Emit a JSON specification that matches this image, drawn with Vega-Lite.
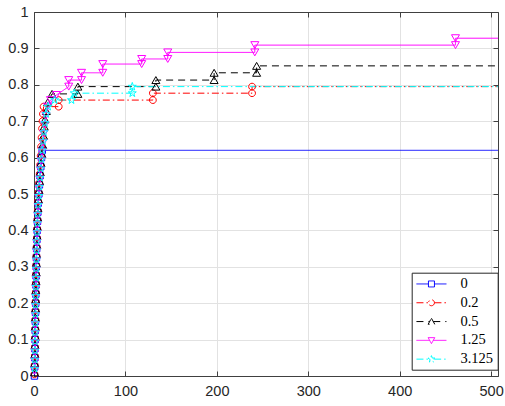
{
  "$schema": "https://vega.github.io/schema/vega-lite/v6.json",
  "width": 464,
  "height": 364,
  "autosize": {"type": "none"},
  "padding": {"left": 34, "top": 12, "right": 7, "bottom": 30},
  "background": "white",
  "config": {"view": {"stroke": null}},
  "data": {"values": [
    {"s":"0","x":0.5,"y":0},{"s":"0","x":0.7,"y":0.025},{"s":"0","x":0.9,"y":0.05},{"s":"0","x":1.0,"y":0.075},{"s":"0","x":1.2,"y":0.1},{"s":"0","x":1.35,"y":0.125},{"s":"0","x":1.5,"y":0.15},{"s":"0","x":1.65,"y":0.175},{"s":"0","x":1.8,"y":0.2},{"s":"0","x":1.95,"y":0.225},{"s":"0","x":2.1,"y":0.25},{"s":"0","x":2.3,"y":0.275},{"s":"0","x":2.5,"y":0.3},{"s":"0","x":2.7,"y":0.325},{"s":"0","x":2.9,"y":0.35},{"s":"0","x":3.2,"y":0.375},{"s":"0","x":3.5,"y":0.4},{"s":"0","x":3.8,"y":0.425},{"s":"0","x":4.2,"y":0.45},{"s":"0","x":4.7,"y":0.475},{"s":"0","x":5.3,"y":0.5},{"s":"0","x":5.9,"y":0.525},{"s":"0","x":6.6,"y":0.55},{"s":"0","x":7.4,"y":0.575},{"s":"0","x":8.2,"y":0.6},{"s":"0","x":9.0,"y":0.62},{"s":"0","x":520,"y":0.62},

    {"s":"0.2","x":0.5,"y":0.005},{"s":"0.2","x":0.7,"y":0.03},{"s":"0.2","x":0.9,"y":0.055},{"s":"0.2","x":1.0,"y":0.08},{"s":"0.2","x":1.2,"y":0.105},{"s":"0.2","x":1.35,"y":0.13},{"s":"0.2","x":1.5,"y":0.155},{"s":"0.2","x":1.65,"y":0.18},{"s":"0.2","x":1.8,"y":0.205},{"s":"0.2","x":1.95,"y":0.23},{"s":"0.2","x":2.1,"y":0.255},{"s":"0.2","x":2.3,"y":0.28},{"s":"0.2","x":2.5,"y":0.305},{"s":"0.2","x":2.7,"y":0.33},{"s":"0.2","x":2.9,"y":0.355},{"s":"0.2","x":3.2,"y":0.38},{"s":"0.2","x":3.5,"y":0.405},{"s":"0.2","x":3.8,"y":0.43},{"s":"0.2","x":4.2,"y":0.455},{"s":"0.2","x":4.6,"y":0.48},{"s":"0.2","x":5.1,"y":0.505},{"s":"0.2","x":5.6,"y":0.53},{"s":"0.2","x":6.2,"y":0.555},{"s":"0.2","x":6.8,"y":0.58},{"s":"0.2","x":7.3,"y":0.605},{"s":"0.2","x":7.8,"y":0.63},{"s":"0.2","x":8.3,"y":0.655},{"s":"0.2","x":8.8,"y":0.68},{"s":"0.2","x":9.3,"y":0.7},{"s":"0.2","x":9.8,"y":0.72},{"s":"0.2","x":10.5,"y":0.74},{"s":"0.2","x":27,"y":0.74},{"s":"0.2","x":27,"y":0.758},{"s":"0.2","x":130,"y":0.758},{"s":"0.2","x":130,"y":0.777},{"s":"0.2","x":238.5,"y":0.777},{"s":"0.2","x":238.5,"y":0.795},{"s":"0.2","x":520,"y":0.795},

    {"s":"0.5","x":0.6,"y":0.01},{"s":"0.5","x":0.8,"y":0.035},{"s":"0.5","x":0.95,"y":0.06},{"s":"0.5","x":1.1,"y":0.085},{"s":"0.5","x":1.25,"y":0.11},{"s":"0.5","x":1.4,"y":0.135},{"s":"0.5","x":1.55,"y":0.16},{"s":"0.5","x":1.7,"y":0.185},{"s":"0.5","x":1.85,"y":0.21},{"s":"0.5","x":2.0,"y":0.235},{"s":"0.5","x":2.2,"y":0.26},{"s":"0.5","x":2.4,"y":0.285},{"s":"0.5","x":2.6,"y":0.31},{"s":"0.5","x":2.8,"y":0.335},{"s":"0.5","x":3.0,"y":0.36},{"s":"0.5","x":3.3,"y":0.385},{"s":"0.5","x":3.6,"y":0.41},{"s":"0.5","x":4.0,"y":0.435},{"s":"0.5","x":4.4,"y":0.46},{"s":"0.5","x":4.9,"y":0.485},{"s":"0.5","x":5.5,"y":0.51},{"s":"0.5","x":6.2,"y":0.535},{"s":"0.5","x":6.9,"y":0.56},{"s":"0.5","x":7.7,"y":0.585},{"s":"0.5","x":8.6,"y":0.61},{"s":"0.5","x":9.5,"y":0.635},{"s":"0.5","x":10.4,"y":0.66},{"s":"0.5","x":11.2,"y":0.685},{"s":"0.5","x":12.0,"y":0.705},{"s":"0.5","x":13.5,"y":0.728},{"s":"0.5","x":15.0,"y":0.752},{"s":"0.5","x":19.7,"y":0.775},{"s":"0.5","x":48,"y":0.775},{"s":"0.5","x":48,"y":0.795},{"s":"0.5","x":133.3,"y":0.795},{"s":"0.5","x":133.3,"y":0.813},{"s":"0.5","x":197,"y":0.813},{"s":"0.5","x":197,"y":0.833},{"s":"0.5","x":243.5,"y":0.833},{"s":"0.5","x":243.5,"y":0.852},{"s":"0.5","x":520,"y":0.852},

    {"s":"1.25","x":0.5,"y":0.015},{"s":"1.25","x":0.7,"y":0.04},{"s":"1.25","x":0.9,"y":0.065},{"s":"1.25","x":1.05,"y":0.09},{"s":"1.25","x":1.25,"y":0.115},{"s":"1.25","x":1.4,"y":0.14},{"s":"1.25","x":1.55,"y":0.165},{"s":"1.25","x":1.7,"y":0.19},{"s":"1.25","x":1.85,"y":0.215},{"s":"1.25","x":2.0,"y":0.24},{"s":"1.25","x":2.2,"y":0.265},{"s":"1.25","x":2.4,"y":0.29},{"s":"1.25","x":2.6,"y":0.315},{"s":"1.25","x":2.8,"y":0.34},{"s":"1.25","x":3.1,"y":0.365},{"s":"1.25","x":3.4,"y":0.39},{"s":"1.25","x":3.7,"y":0.415},{"s":"1.25","x":4.0,"y":0.44},{"s":"1.25","x":4.5,"y":0.465},{"s":"1.25","x":5.0,"y":0.49},{"s":"1.25","x":5.6,"y":0.515},{"s":"1.25","x":6.3,"y":0.54},{"s":"1.25","x":7.0,"y":0.565},{"s":"1.25","x":7.9,"y":0.59},{"s":"1.25","x":8.8,"y":0.615},{"s":"1.25","x":9.7,"y":0.64},{"s":"1.25","x":10.6,"y":0.665},{"s":"1.25","x":11.7,"y":0.69},{"s":"1.25","x":13.0,"y":0.715},{"s":"1.25","x":14.8,"y":0.74},{"s":"1.25","x":18,"y":0.758},{"s":"1.25","x":24.5,"y":0.772},{"s":"1.25","x":38,"y":0.795},{"s":"1.25","x":38,"y":0.813},{"s":"1.25","x":52,"y":0.813},{"s":"1.25","x":52,"y":0.833},{"s":"1.25","x":75.2,"y":0.833},{"s":"1.25","x":75.2,"y":0.857},{"s":"1.25","x":117.8,"y":0.857},{"s":"1.25","x":117.8,"y":0.871},{"s":"1.25","x":146.3,"y":0.871},{"s":"1.25","x":146.3,"y":0.889},{"s":"1.25","x":241.5,"y":0.889},{"s":"1.25","x":241.5,"y":0.909},{"s":"1.25","x":461,"y":0.909},{"s":"1.25","x":461,"y":0.928},{"s":"1.25","x":520,"y":0.928},

    {"s":"3.125","x":0.6,"y":0.02},{"s":"3.125","x":0.8,"y":0.045},{"s":"3.125","x":0.95,"y":0.07},{"s":"3.125","x":1.1,"y":0.095},{"s":"3.125","x":1.3,"y":0.12},{"s":"3.125","x":1.45,"y":0.145},{"s":"3.125","x":1.6,"y":0.17},{"s":"3.125","x":1.75,"y":0.195},{"s":"3.125","x":1.9,"y":0.22},{"s":"3.125","x":2.05,"y":0.245},{"s":"3.125","x":2.25,"y":0.27},{"s":"3.125","x":2.45,"y":0.295},{"s":"3.125","x":2.65,"y":0.32},{"s":"3.125","x":2.85,"y":0.345},{"s":"3.125","x":3.1,"y":0.37},{"s":"3.125","x":3.4,"y":0.395},{"s":"3.125","x":3.7,"y":0.42},{"s":"3.125","x":4.1,"y":0.445},{"s":"3.125","x":4.6,"y":0.47},{"s":"3.125","x":5.2,"y":0.495},{"s":"3.125","x":5.8,"y":0.52},{"s":"3.125","x":6.5,"y":0.545},{"s":"3.125","x":7.3,"y":0.57},{"s":"3.125","x":8.1,"y":0.595},{"s":"3.125","x":9.0,"y":0.62},{"s":"3.125","x":9.9,"y":0.645},{"s":"3.125","x":10.9,"y":0.67},{"s":"3.125","x":12.0,"y":0.695},{"s":"3.125","x":13.3,"y":0.72},{"s":"3.125","x":15.5,"y":0.74},{"s":"3.125","x":22.6,"y":0.758},{"s":"3.125","x":41,"y":0.758},{"s":"3.125","x":44,"y":0.777},{"s":"3.125","x":107.5,"y":0.777},{"s":"3.125","x":107.5,"y":0.795},{"s":"3.125","x":520,"y":0.795}
  ]},
  "layer": [
    {
      "mark": {"type": "line", "strokeWidth": 1, "clip": true},
      "encoding": {
        "x": {"field": "x", "type": "quantitative",
              "scale": {"domain": [0, 507.5], "nice": false, "zero": false},
              "axis": {"orient": "bottom", "values": [0,100,200,300,400,500], "title": null, "grid": true, "gridColor": "#e2e2e2", "gridWidth": 1,
                       "tickSize": -5, "tickColor": "#404040", "domainColor": "#404040", "domainWidth": 1,
                       "labelFont": "Liberation Sans", "labelFontSize": 14.5, "labelColor": "#262626", "labelPadding": 13, "labelFlush": false, "labelOverlap": false}},
        "y": {"field": "y", "type": "quantitative",
              "scale": {"domain": [0, 1], "nice": false},
              "axis": {"orient": "left", "values": [0,0.1,0.2,0.3,0.4,0.5,0.6,0.7,0.8,0.9,1], "format": "~g", "title": null, "grid": true, "gridColor": "#e2e2e2", "gridWidth": 1,
                       "tickSize": -5, "tickColor": "#404040", "domainColor": "#404040", "domainWidth": 1,
                       "labelFont": "Liberation Sans", "labelFontSize": 14.5, "labelColor": "#262626", "labelPadding": 11, "labelFlush": false, "labelOverlap": false}},
        "color": {"field": "s", "type": "nominal",
                  "scale": {"domain": ["0","0.2","0.5","1.25","3.125"], "range": ["#0000ff","#ff0000","#000000","#ff00ff","#00ffff"]},
                  "legend": null},
        "strokeDash": {"field": "s", "type": "nominal",
                       "scale": {"domain": ["0","0.2","0.5","1.25","3.125"], "range": [[1,0],[7,3,1.5,3],[7,5],[1,0],[7,3,1.5,3]]},
                       "legend": null},
        "order": {"value": null}
      }
    },
    {
      "transform": [{"filter": "datum.x <= 507.5"}],
      "mark": {"type": "point", "filled": false, "strokeWidth": 1, "size": 64, "opacity": 1},
      "encoding": {
        "x": {"field": "x", "type": "quantitative", "scale": {"domain": [0, 507.5], "nice": false, "zero": false}, "axis": null},
        "y": {"field": "y", "type": "quantitative", "scale": {"domain": [0, 1], "nice": false}, "axis": null},
        "color": {"field": "s", "type": "nominal",
                  "scale": {"domain": ["0","0.2","0.5","1.25","3.125"], "range": ["#0000ff","#ff0000","#000000","#ff00ff","#00ffff"]},
                  "legend": null},
        "shape": {"field": "s", "type": "nominal",
                  "scale": {"domain": ["0","0.2","0.5","1.25","3.125"], "range": ["M-0.8,-0.8L0.8,-0.8L0.8,0.8L-0.8,0.8Z","M0.85,0A0.85,0.85,0,1,1,-0.85,0A0.85,0.85,0,1,1,0.85,0Z","triangle-up","triangle-down","M0,-1.05L0.24,-0.33L1.0,-0.33L0.39,0.12L0.62,0.85L0,0.4L-0.62,0.85L-0.39,0.12L-1.0,-0.33L-0.24,-0.33Z"]},
                  "legend": null}
      }
    },
    {
      "transform": [{"filter": "datum.x < -1000"}],
      "mark": {"type": "point", "filled": false, "strokeWidth": 1, "size": 36, "opacity": 1},
      "encoding": {
        "x": {"field": "x", "type": "quantitative", "scale": {"domain": [0, 507.5], "nice": false, "zero": false},
              "axis": {"orient": "top", "values": [0,100,200,300,400,500], "title": null, "labels": false, "grid": false,
                       "tickSize": -5, "tickColor": "#404040", "domainColor": "#404040", "domainWidth": 1}},
        "y": {"field": "y", "type": "quantitative", "scale": {"domain": [0, 1], "nice": false},
              "axis": {"orient": "right", "values": [0,0.1,0.2,0.3,0.4,0.5,0.6,0.7,0.8,0.9,1], "title": null, "labels": false, "grid": false,
                       "tickSize": -5, "tickColor": "#404040", "domainColor": "#404040", "domainWidth": 1}},
        "color": {"field": "s", "type": "nominal",
                  "scale": {"domain": ["0","0.2","0.5","1.25","3.125"], "range": ["#0000ff","#ff0000","#000000","#ff00ff","#00ffff"]},
                  "legend": {"title": null, "orient": "none", "legendX": 377.7, "legendY": 260.7, "padding": 4,
                             "strokeColor": "#262626", "fillColor": "white",
                             "labelFont": "Liberation Serif", "labelFontSize": 14.5, "labelColor": "black",
                             "labelExpr": "datum.label + '   '",
                             "symbolOffset": 8.5, "labelOffset": 21.7, "rowPadding": 3.8, "symbolSize": 36, "symbolStrokeWidth": 1, "symbolOpacity": 1}},
        "shape": {"field": "s", "type": "nominal",
                  "scale": {"domain": ["0","0.2","0.5","1.25","3.125"], "range": [
                    "M-5,0L-1,0M1,0L5,0M-1,-1L1,-1L1,1L-1,1Z",
                    "M-5,0L-1,0M1,0L5,0M1,0A1,1,0,1,1,-1,0A1,1,0,1,1,1,0Z",
                    "M-5,0L-0.6,0M0.6,0L5,0M0,-1.1L1.1,0.9L-1.1,0.9Z",
                    "M-5,0L-0.6,0M0.6,0L5,0M-1.1,-0.9L1.1,-0.9L0,1.1Z",
                    "M-5,0L-0.9,0M0.9,0L5,0M0,-1.2L0.27,-0.37L1.14,-0.37L0.44,0.14L0.71,0.97L0,0.46L-0.71,0.97L-0.44,0.14L-1.14,-0.37L-0.27,-0.37Z"]},
                  "legend": {"title": null, "orient": "none", "legendX": 377.7, "legendY": 260.7, "padding": 4,
                             "strokeColor": "#262626", "fillColor": "white",
                             "labelFont": "Liberation Serif", "labelFontSize": 14.5, "labelColor": "black",
                             "labelExpr": "datum.label + '   '",
                             "symbolOffset": 8.5, "labelOffset": 21.7, "rowPadding": 3.8, "symbolSize": 36, "symbolStrokeWidth": 1, "symbolOpacity": 1}},
        "strokeDash": {"field": "s", "type": "nominal",
                       "scale": {"domain": ["0","0.2","0.5","1.25","3.125"], "range": [[1,0],[7,3,1.5,3],[7,5],[1,0],[7,3,1.5,3]]},
                       "legend": {"title": null, "orient": "none", "legendX": 377.7, "legendY": 260.7, "padding": 4,
                             "strokeColor": "#262626", "fillColor": "white",
                             "labelFont": "Liberation Serif", "labelFontSize": 14.5, "labelColor": "black",
                             "labelExpr": "datum.label + '   '",
                             "symbolOffset": 8.5, "labelOffset": 21.7, "rowPadding": 3.8, "symbolSize": 36, "symbolStrokeWidth": 1, "symbolOpacity": 1}}
      }
    }
  ],
  "resolve": {
    "axis": {"x": "independent", "y": "independent"},
    "scale": {"color": "independent", "shape": "independent", "strokeDash": "independent"}
  }
}
